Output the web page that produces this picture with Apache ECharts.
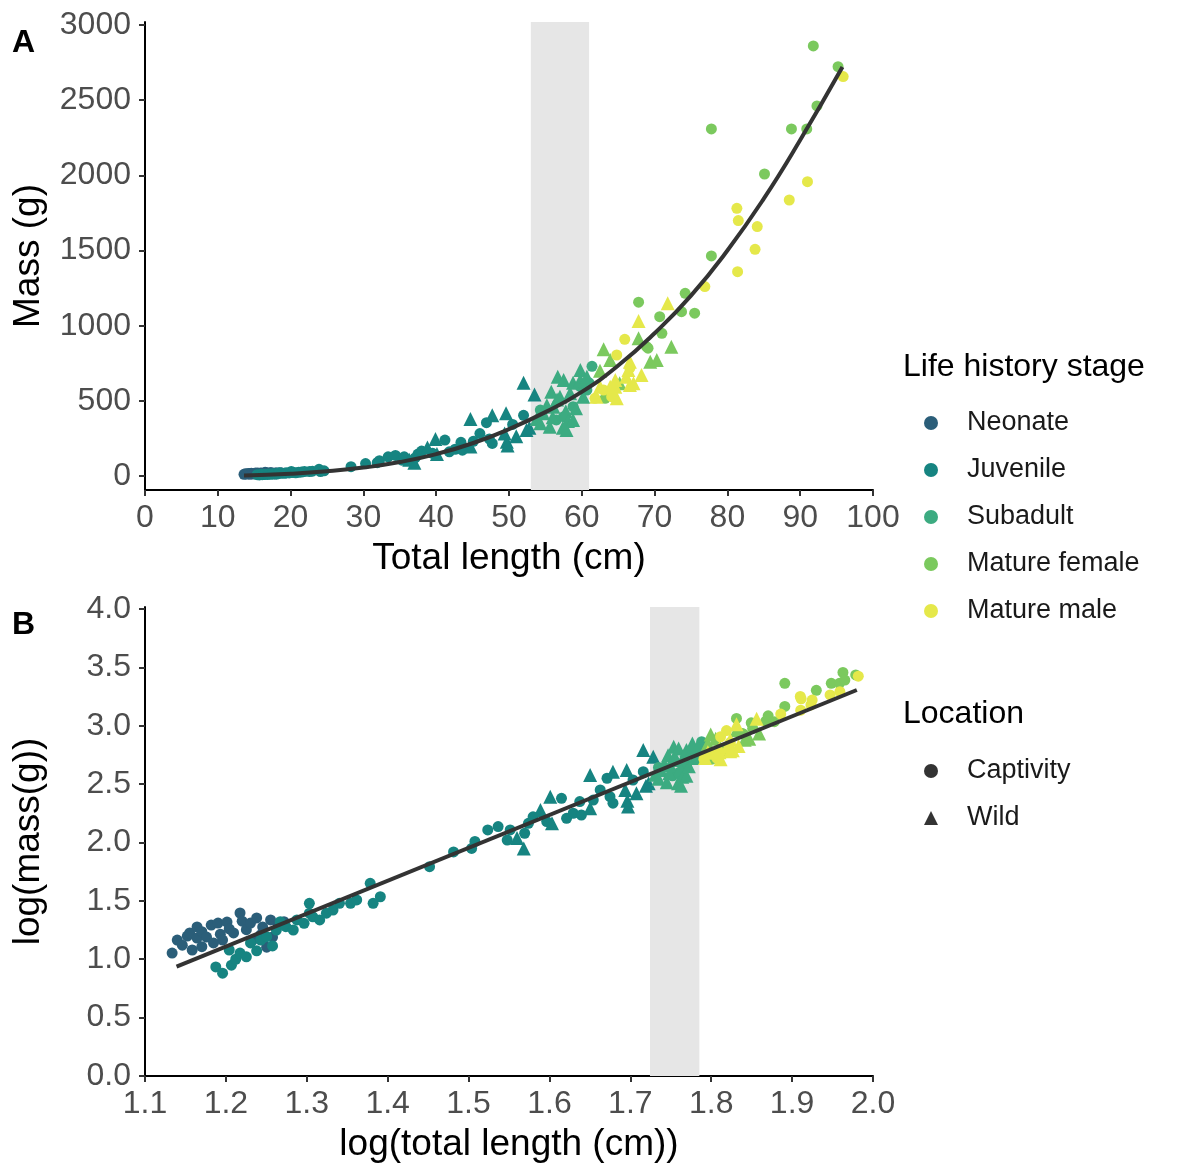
<!DOCTYPE html>
<html>
<head>
<meta charset="utf-8">
<script src="https://cdn.jsdelivr.net/npm/echarts@6.0.0/dist/echarts.min.js"></script>
<style>
  html, body { margin: 0; padding: 0; background: #ffffff; }
  #chart { width: 1187px; height: 1164px; }
</style>
</head>
<body>
<div id="chart"></div>
<script>
// Body measurements: [total length (cm), mass (g)] per life history stage and location
const neonateCaptivity = [
  [13.6,11.3],[13.8,14.6],[14.0,13.2],[14.2,15.8],[14.3,16.8],[14.4,12.0],[14.6,18.9],[14.6,15.2],
  [14.8,17.2],[14.8,12.8],[15.0,15.5],[15.2,19.6],[15.3,13.8],[15.5,20.4],[15.6,16.4],[15.7,14.6],
  [15.9,20.8],[16.0,18.2],[16.2,16.8],[16.5,24.9],[16.6,21.2],[16.8,17.9],[17.0,20.4],[17.1,14.6],
  [17.3,22.6],[17.5,16.2],[17.6,18.9],[17.8,12.7],[18.0,21.7],[18.1,15.5],[18.4,19.6],[18.7,21.0]
];
const juvenileCaptivity = [
  [15.4,8.6],[15.7,7.6],[16.1,8.9],[16.0,12.0],[16.3,10.0],[16.5,11.3],[16.8,10.5],[17.0,13.8],
  [17.3,11.8],[17.5,14.6],[17.8,15.6],[18.1,13.0],[18.3,17.8],[18.5,21.0],[18.8,19.0],[19.2,17.8],
  [19.4,21.7],[19.8,20.3],[20.1,24.8],[20.1,30.1],[20.3,23.1],[20.7,21.7],[21.1,24.8],[21.5,26.4],
  [21.9,30.1],[22.6,30.1],[23.0,32.2],[23.9,44.7],[24.1,30.1],[24.6,34.3],
  [28.3,62],[30.3,83],[31.9,89],[32.2,102],[33.4,128],[34.4,137],[35.3,105],[35.6,128],
  [37.1,120],[37.5,146],[38.0,166],[39.5,151],[41.2,239],[41.8,161],[42.6,178],[43.4,224],
  [43.6,172],[45.1,231],[46.0,282],[46.9,355],[47.3,247],[47.7,217],[50.5,343],[52.0,404]
];
const juvenileWild = [
  [36.3,109],[37.0,89],[38.8,190],[39.9,247],[40.1,146],[44.7,196],[44.7,379],[47.7,404],
  [49.4,282],[49.6,418],[49.7,228],[49.8,203],[51.0,264],[52.0,620],[52.4,306],[52.8,321],[53.5,543]
];
const subadultCaptivity = [
  [54.3,439],[56.5,373],[57.5,395],[58.8,461],[59.8,594],[60.7,572],[61.0,620],[61.4,730]
];
const subadultWild = [
  [53.8,380],[54.3,351],[54.7,417],[55.2,470],[55.6,328],[55.8,560],[56.0,391],[56.1,461],
  [56.6,509],[56.7,661],[57.0,528],[57.4,321],[57.5,639],[57.8,430],[57.9,306],[58.1,366],
  [58.4,550],[58.8,373],[58.8,620],[59.2,450],[59.8,639],[59.8,705],[60.2,528],[60.7,661]
];
const femaleCaptivity = [
  [63.2,517],[67.8,1156],[68.9,860],[69.1,850],[70.7,1060],[71.0,949],[73.7,1093],[74.2,1215],
  [75.5,1083],[77.8,1464],[77.8,2309],[85.1,2009],[88.8,2309],[90.9,2309],[91.8,2861],[92.3,2462],
  [95.2,2723]
];
const femaleWild = [
  [62.5,700],[63.0,843],[63.9,772],[65.2,617],[67.8,916],[69.4,760],[70.3,772],[72.3,860]
];
const maleCaptivity = [
  [61.8,517],[63.0,572],[64.1,528],[64.8,805],[65.9,909],[66.6,717],[76.9,1260],[81.3,1781],
  [81.4,1359],[81.5,1699],[83.8,1508],[84.1,1659],[88.5,1836],[91.0,1958],[95.9,2657]
];
const maleWild = [
  [62.0,528],[62.5,594],[63.9,594],[64.6,594],[64.6,639],[64.8,517],[66.1,661],[66.4,705],
  [66.6,605],[66.6,760],[67.1,617],[67.8,1031],[68.2,672],[71.8,1149]
];

// Fitted relationships
const fitCurveA = [
  [13.6,4],[20,15],[25,31],[30,56],[35,93],[40,146],[45,218],[50,312],[55,425],
  [60,560],[65,735],[70,950],[75,1200],[80,1500],[85,1845],[90,2235],[95.8,2720]
];
const fitLineB = [[1.139,0.936],[1.98,3.306]];

// Length range of the shaded transition band (cm)
const bandLength = [53, 61];

// Tick values
const massTicks = [0,500,1000,1500,2000,2500,3000];
const logMassTicks = [0,0.5,1,1.5,2,2.5,3,3.5,4];
const logLengthTicks = [1.1,1.2,1.3,1.4,1.5,1.6,1.7,1.8,1.9,2.0];

const stageNames = ['Neonate','Juvenile','Subadult','Mature female','Mature male'];
const stageColors = {
  'Neonate': '#2B5E79',
  'Juvenile': '#168481',
  'Subadult': '#3CAB81',
  'Mature female': '#7BC95E',
  'Mature male': '#E5E84A'
};
const groups = [
  { stage: 'Neonate', loc: 'Captivity', data: neonateCaptivity },
  { stage: 'Juvenile', loc: 'Captivity', data: juvenileCaptivity },
  { stage: 'Juvenile', loc: 'Wild', data: juvenileWild },
  { stage: 'Subadult', loc: 'Captivity', data: subadultCaptivity },
  { stage: 'Subadult', loc: 'Wild', data: subadultWild },
  { stage: 'Mature female', loc: 'Captivity', data: femaleCaptivity },
  { stage: 'Mature female', loc: 'Wild', data: femaleWild },
  { stage: 'Mature male', loc: 'Captivity', data: maleCaptivity },
  { stage: 'Mature male', loc: 'Wild', data: maleWild }
];

const FONT = '"Liberation Sans", Arial, Helvetica, sans-serif';
const log10 = v => Math.log10(v);

function axisCommon() {
  return {
    type: 'value',
    splitLine: { show: false },
    axisLine: { show: true, onZero: false, lineStyle: { color: '#000', width: 2 } },
    axisTick: { show: true, length: 6, lineStyle: { color: '#333', width: 2 } },
    axisLabel: { fontSize: 32, color: '#4D4D4D', fontFamily: FONT },
    nameLocation: 'middle',
    nameTextStyle: { fontSize: 37, color: '#000', fontFamily: FONT }
  };
}

const series = [];

// Shaded band, one per panel
series.push({
  type: 'scatter', xAxisIndex: 0, yAxisIndex: 0, data: [], z: 1, silent: true,
  markArea: { silent: true, itemStyle: { color: '#E6E6E6' },
    data: [[{ xAxis: bandLength[0] }, { xAxis: bandLength[1] }]] }
});
series.push({
  type: 'scatter', xAxisIndex: 1, yAxisIndex: 1, data: [], z: 1, silent: true,
  markArea: { silent: true, itemStyle: { color: '#E6E6E6' },
    data: [[{ xAxis: log10(bandLength[0]) }, { xAxis: log10(bandLength[1]) }]] }
});

// Points: raw scale (A) and log scale (B)
groups.forEach(g => {
  const sym = g.loc === 'Wild' ? 'triangle' : 'circle';
  const size = g.loc === 'Wild' ? 14 : 11;
  const style = { color: stageColors[g.stage], opacity: 1 };
  series.push({
    name: g.stage, type: 'scatter', xAxisIndex: 0, yAxisIndex: 0, z: 2,
    symbol: sym, symbolSize: size, itemStyle: style, data: g.data
  });
  series.push({
    name: g.stage, type: 'scatter', xAxisIndex: 1, yAxisIndex: 1, z: 2,
    symbol: sym, symbolSize: size, itemStyle: style,
    data: g.data.map(d => [log10(d[0]), log10(d[1])])
  });
});

// Location keys (legend only)
series.push({ name: 'Captivity', type: 'scatter', data: [], xAxisIndex: 0, yAxisIndex: 0,
  symbol: 'circle', itemStyle: { color: '#000' } });
series.push({ name: 'Wild', type: 'scatter', data: [], xAxisIndex: 0, yAxisIndex: 0,
  symbol: 'triangle', itemStyle: { color: '#000' } });

// Fitted lines
series.push({
  type: 'line', xAxisIndex: 0, yAxisIndex: 0, z: 3, data: fitCurveA, smooth: true,
  showSymbol: false, silent: true, lineStyle: { color: '#333333', width: 4 }
});
series.push({
  type: 'line', xAxisIndex: 1, yAxisIndex: 1, z: 3, data: fitLineB,
  showSymbol: false, silent: true, lineStyle: { color: '#333333', width: 4 }
});

const chart = echarts.init(document.getElementById('chart'), null, { renderer: 'canvas' });
chart.setOption({
  backgroundColor: '#ffffff',
  animation: false,
  textStyle: { fontFamily: FONT },
  title: [
    { text: 'A', left: 7, top: 22, textStyle: { fontSize: 32, fontWeight: 'bold', color: '#000', fontFamily: FONT } },
    { text: 'B', left: 7, top: 604, textStyle: { fontSize: 32, fontWeight: 'bold', color: '#000', fontFamily: FONT } },
    { text: 'Life history stage', left: 898, top: 346, textStyle: { fontSize: 32, fontWeight: 'normal', color: '#000', fontFamily: FONT } },
    { text: 'Location', left: 898, top: 693, textStyle: { fontSize: 32, fontWeight: 'normal', color: '#000', fontFamily: FONT } }
  ],
  legend: [
    {
      orient: 'vertical', left: 919, top: 403, itemWidth: 14, itemHeight: 14, itemGap: 17,
      selectedMode: false,
      data: stageNames.map(n => ({ name: n, icon: 'circle' })),
      textStyle: { fontSize: 27, color: '#1a1a1a', lineHeight: 30, padding: [0, 0, 0, 24], fontFamily: FONT }
    },
    {
      orient: 'vertical', left: 919, top: 751, itemWidth: 14, itemHeight: 14, itemGap: 17,
      selectedMode: false,
      data: [{ name: 'Captivity', icon: 'circle' }, { name: 'Wild', icon: 'triangle' }],
      textStyle: { fontSize: 27, color: '#1a1a1a', lineHeight: 30, padding: [0, 0, 0, 24], fontFamily: FONT }
    }
  ],
  grid: [
    { left: 145, top: 22, width: 728, height: 468, outerBoundsMode: 'none', containLabel: false },
    { left: 145, top: 607, width: 728, height: 469, outerBoundsMode: 'none', containLabel: false }
  ],
  xAxis: [
    Object.assign(axisCommon(), {
      gridIndex: 0, min: 0, max: 100, interval: 10,
      name: 'Total length (cm)', nameGap: 50,
      axisLabel: Object.assign(axisCommon().axisLabel, { margin: 12 })
    }),
    Object.assign(axisCommon(), {
      gridIndex: 1, min: 1.1, max: 2.0,
      name: 'log(total length (cm))', nameGap: 50,
      axisTick: Object.assign(axisCommon().axisTick, { customValues: logLengthTicks }),
      axisLabel: Object.assign(axisCommon().axisLabel, {
        margin: 12, customValues: logLengthTicks, formatter: v => v.toFixed(1)
      })
    })
  ],
  yAxis: [
    Object.assign(axisCommon(), {
      gridIndex: 0, min: -93, max: 3020,
      name: 'Mass (g)', nameGap: 98,
      axisTick: Object.assign(axisCommon().axisTick, { customValues: massTicks }),
      axisLabel: Object.assign(axisCommon().axisLabel, {
        margin: 14, customValues: massTicks, formatter: v => String(Math.round(v))
      })
    }),
    Object.assign(axisCommon(), {
      gridIndex: 1, min: 0, max: 4.017,
      name: 'log(mass(g))', nameGap: 98,
      axisTick: Object.assign(axisCommon().axisTick, { customValues: logMassTicks }),
      axisLabel: Object.assign(axisCommon().axisLabel, {
        margin: 14, customValues: logMassTicks, formatter: v => v.toFixed(1)
      })
    })
  ],
  series: series
});
</script>
</body>
</html>
